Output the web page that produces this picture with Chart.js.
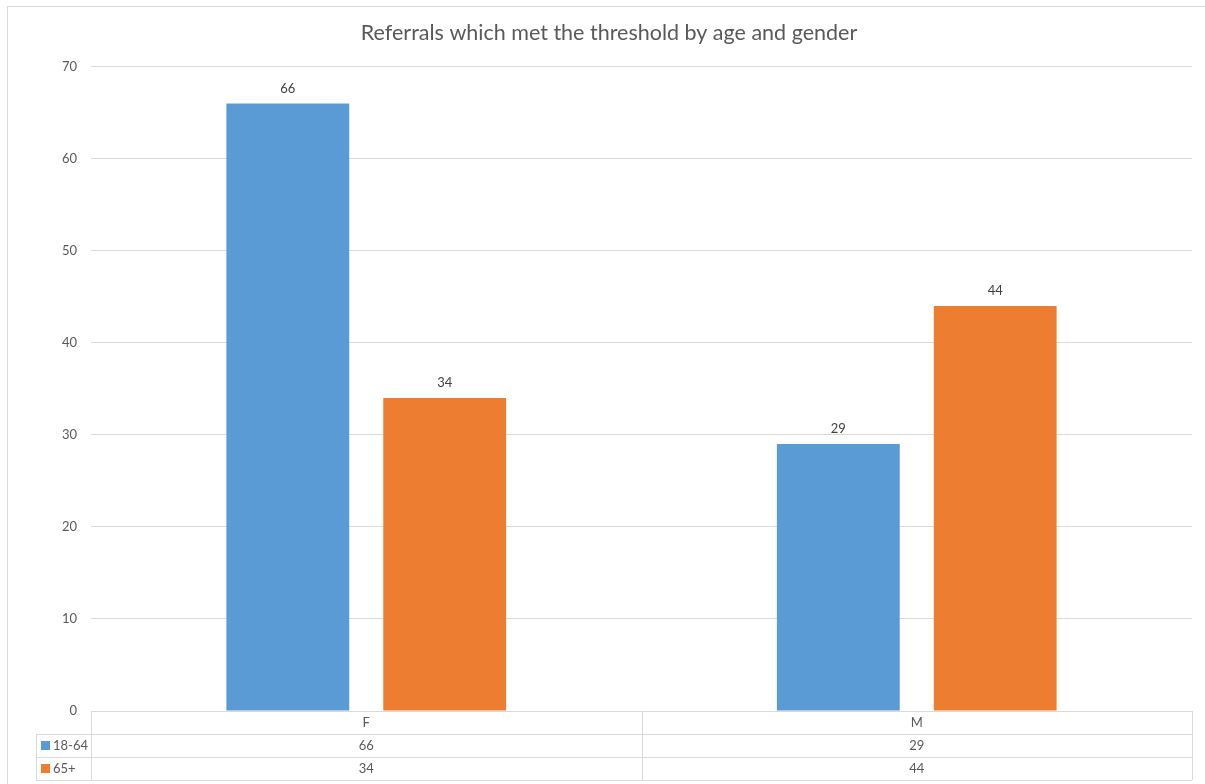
<!DOCTYPE html>
<html>
<head>
<meta charset="utf-8">
<script src="https://cdn.jsdelivr.net/npm/chart.js@4/dist/chart.umd.min.js"></script>
<style>
  html, body { margin: 0; padding: 0; background: #fff; }
  #wrap { width: 1205px; height: 784px; position: relative; }
</style>
</head>
<body>
<div id="wrap"><canvas id="chart"></canvas></div>
<script>
const categories = ['F', 'M'];
const seriesNames = ['18-64', '65+'];
const age18to64 = [66, 29];
const age65plus = [34, 44];
const yMax = 70;
const yStep = 10;
const colors = ['#5B9BD5', '#ED7D31'];

const textColor = '#595959';
const lineColor = '#d9d9d9';
const fontFamily = 'Lato, "Open Sans", sans-serif';

// outer chart frame
const framePlugin = {
    id: 'frame',
    beforeDraw(chart) {
        const c = chart.ctx;
        c.save();
        c.fillStyle = '#fff';
        c.fillRect(0, 0, chart.width, chart.height);
        c.strokeStyle = lineColor;
        c.lineWidth = 1;
        c.strokeRect(7.5, 6.5, chart.width, chart.height);
        c.restore();
    }
};

// value labels above each bar
const barLabels = {
    id: 'barLabels',
    afterDatasetsDraw(chart) {
        const c = chart.ctx;
        c.save();
        c.font = '13px ' + fontFamily;
        c.fillStyle = '#404040';
        c.textAlign = 'center';
        c.textBaseline = 'middle';
        chart.data.datasets.forEach((ds, i) => {
            chart.getDatasetMeta(i).data.forEach((bar, j) => {
                c.fillText(ds.data[j], bar.x, bar.y - 15);
            });
        });
        c.restore();
    }
};

// Excel-style data table under the plot
const dataTable = {
    id: 'dataTable',
    afterDraw(chart) {
        const c = chart.ctx;
        const area = chart.chartArea;
        const xs = chart.scales.x;
        const rowH = 23;
        const top = area.bottom;
        const keyLeft = 36;
        const rows = chart.data.datasets.length;
        const bottom = top + rowH * (rows + 1);

        const n = categories.length;
        const colW = (area.right - area.left) / n;
        const px = v => Math.round(v) + 0.5;

        c.save();
        c.strokeStyle = lineColor;
        c.lineWidth = 1;
        c.beginPath();
        c.moveTo(area.left, px(top)); c.lineTo(area.right, px(top));
        for (let r = 1; r <= rows + 1; r++) {
            const y = px(top + rowH * r);
            c.moveTo(keyLeft, y); c.lineTo(area.right, y);
        }
        for (let i = 0; i <= n; i++) {
            const x = px(area.left + colW * i);
            c.moveTo(x, top); c.lineTo(x, bottom);
        }
        c.moveTo(px(keyLeft), top + rowH); c.lineTo(px(keyLeft), bottom);
        c.stroke();

        c.font = '13px ' + fontFamily;
        c.fillStyle = textColor;
        c.textBaseline = 'middle';
        c.textAlign = 'center';
        categories.forEach((cat, i) => {
            c.fillText(cat, xs.getPixelForTick(i), top + rowH / 2);
        });
        chart.data.datasets.forEach((ds, r) => {
            const yMid = top + rowH * (r + 1) + rowH / 2;
            c.textAlign = 'center';
            ds.data.forEach((v, i) => {
                c.fillText(v, xs.getPixelForTick(i), yMid);
            });
            c.fillStyle = ds.backgroundColor;
            c.fillRect(41, Math.round(yMid - 5), 9, 9);
            c.fillStyle = textColor;
            c.textAlign = 'left';
            c.fillText(ds.label, 53, yMid);
        });
        c.restore();
    }
};

const ctx = document.getElementById('chart').getContext('2d');
const chart = new Chart(ctx, {
    type: 'bar',
    data: {
        labels: categories,
        datasets: [
            { label: seriesNames[0], data: age18to64, backgroundColor: colors[0] },
            { label: seriesNames[1], data: age65plus, backgroundColor: colors[1] }
        ]
    },
    options: {
        responsive: true,
        maintainAspectRatio: false,
        animation: false,
        datasets: {
            bar: { barPercentage: 0.783, categoryPercentage: 0.57 }
        },
        layout: {
            padding: { top: 0, right: 0, bottom: 73, left: 13 }
        },
        plugins: {
            legend: { display: false },
            tooltip: { enabled: false },
            title: {
                display: true,
                text: 'Referrals which met the threshold by age and gender',
                color: textColor,
                font: { family: fontFamily, size: 21.5, weight: 'normal', lineHeight: 1.2 },
                padding: { top: 20, bottom: 21 }
            }
        },
        scales: {
            x: {
                display: false
            },
            y: {
                min: 0,
                max: yMax,
                afterFit(scale) { scale.width = 78; },
                ticks: {
                    stepSize: yStep,
                    color: textColor,
                    padding: 14,
                    font: { family: fontFamily, size: 13 }
                },
                grid: { color: lineColor, drawTicks: false },
                border: { display: false }
            },
            // empty right-hand spacer so the plot ends where the reference does
            yRight: {
                position: 'right',
                min: 0,
                max: yMax,
                afterFit(scale) { scale.width = 13; },
                ticks: { display: false },
                grid: { display: false, drawTicks: false },
                border: { display: false }
            }
        }
    },
    plugins: [framePlugin, barLabels, dataTable]
});
</script>
</body>
</html>
